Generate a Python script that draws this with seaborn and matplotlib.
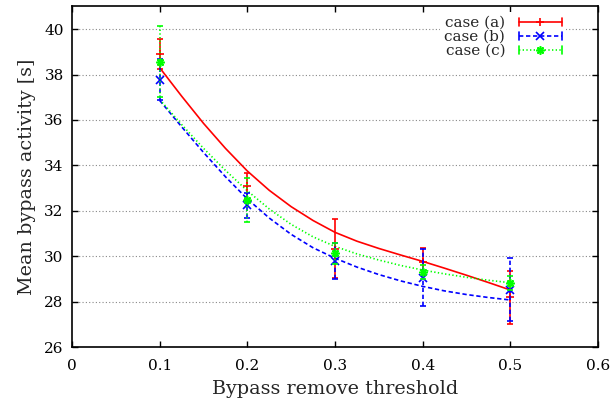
import numpy as np
import pandas as pd
import matplotlib
matplotlib.use("Agg")
import matplotlib.pyplot as plt
import seaborn as sns
from matplotlib.legend_handler import HandlerBase
from matplotlib.lines import Line2D

# ---- data ----
thresholds = [0.1, 0.2, 0.3, 0.4, 0.5]
case_a_mean = [38.90, 33.09, 30.33, 29.76, 28.19]
case_a_err = [0.65, 0.58, 1.29, 0.60, 1.17]
case_b_mean = [37.78, 32.25, 29.78, 29.05, 28.53]
case_b_err = [0.91, 0.55, 0.78, 1.25, 1.37]
case_c_mean = [38.56, 32.47, 30.12, 29.31, 28.83]
case_c_err = [1.57, 0.98, 0.45, 0.30, 0.30]

# smooth trend curves as drawn in the reference
curve_x = [0.100, 0.125, 0.150, 0.175, 0.200, 0.225, 0.250, 0.275, 0.300,
           0.325, 0.350, 0.375, 0.400, 0.425, 0.450, 0.475, 0.500]
case_a_curve = [38.30, 37.05, 35.85, 34.75, 33.75, 32.90, 32.18, 31.57, 31.05,
                30.66, 30.34, 30.05, 29.77, 29.47, 29.16, 28.84, 28.51]
case_b_curve = [36.86, 35.70, 34.57, 33.50, 32.52, 31.68, 30.96, 30.37, 29.91,
                29.52, 29.19, 28.91, 28.67, 28.47, 28.31, 28.18, 28.07]
case_c_curve = [36.90, 35.80, 34.75, 33.78, 32.88, 32.08, 31.40, 30.85, 30.43,
                30.10, 29.83, 29.59, 29.39, 29.22, 29.07, 28.94, 28.83]

case_labels = ["case (a)", "case (b)", "case (c)"]
x_ticks = [0, 0.1, 0.2, 0.3, 0.4, 0.5, 0.6]
x_tick_labels = ["0", "0.1", "0.2", "0.3", "0.4", "0.5", "0.6"]
y_ticks = [26, 28, 30, 32, 34, 36, 38, 40]

# ---- styles ----
colors = {"case (a)": "#ff0000", "case (b)": "#0000ff", "case (c)": "#00ff00"}
dash_map = {"case (a)": "", "case (b)": (2.6, 1.6), "case (c)": (0.8, 1.4)}
marker_map = {"case (a)": "+", "case (b)": "x", "case (c)": (8, 2, 0)}
LW = 1.2

sns.set_theme(style="ticks")
plt.rcParams["font.family"] = ["DejaVu Serif"]
plt.rcParams["mathtext.fontset"] = "dejavuserif"

fig = plt.figure(figsize=(6.11, 4.07), dpi=100)
ax = fig.add_axes([72 / 611, 60 / 407, 526 / 611, (347 - 6.4) / 407])

n = len(curve_x)
curves = pd.DataFrame({
    "threshold": curve_x * 3,
    "activity": case_a_curve + case_b_curve + case_c_curve,
    "case": [case_labels[0]] * n + [case_labels[1]] * n + [case_labels[2]] * n,
})
sns.lineplot(data=curves, x="threshold", y="activity", hue="case", style="case",
             palette=colors, dashes=dash_map, lw=LW, legend=False, ax=ax,
             sort=True, estimator=None)

means = {"case (a)": case_a_mean, "case (b)": case_b_mean, "case (c)": case_c_mean}
errs = {"case (a)": case_a_err, "case (b)": case_b_err, "case (c)": case_c_err}

for i, lab in enumerate(case_labels):
    eb = ax.errorbar(thresholds, means[lab], yerr=errs[lab], fmt="none",
                     ecolor=colors[lab], elinewidth=LW, capsize=2.3, capthick=LW,
                     zorder=3 + i)
    if dash_map[lab] != "":
        eb[2][0].set_linestyle((0, dash_map[lab]))
    ax.plot(thresholds, means[lab], ls="none", marker=marker_map[lab], ms=6,
            mew=1.2, color=colors[lab], zorder=3 + i)

ax.set_xlim(0, 0.6)
ax.set_ylim(26, 41)
ax.set_xticks(x_ticks)
ax.set_xticklabels(x_tick_labels)
ax.set_yticks(y_ticks)
ax.tick_params(direction="in", top=True, right=True, length=4, width=1,
               labelsize=11, colors="black")
ax.tick_params(axis="x", pad=9)
ax.tick_params(axis="y", pad=6)
ax.yaxis.grid(True, linestyle=(0, (1, 2)), color="#888888", lw=0.8)
ax.xaxis.grid(False)
for s in ax.spines.values():
    s.set_linewidth(1.2)
    s.set_color("black")

ax.set_xlabel("Bypass remove threshold", fontsize=13.8, labelpad=5)
ax.set_ylabel("Mean bypass activity [s]", fontsize=13.8, labelpad=6)


class ErrbarHandler(HandlerBase):
    def create_artists(self, legend, orig_handle, xdescent, ydescent, width,
                       height, fontsize, trans):
        y = height / 2 - ydescent
        x0 = -xdescent
        x1 = -xdescent + width
        line = Line2D([x0, x1], [y, y])
        line.update_from(orig_handle)
        line.set_marker("None")
        h = 3.0
        cap0 = Line2D([x0, x0], [y - h, y + h], color=orig_handle.get_color(), lw=LW)
        cap1 = Line2D([x1, x1], [y - h, y + h], color=orig_handle.get_color(), lw=LW)
        mk = Line2D([(x0 + x1) / 2], [y], ls="none", marker=orig_handle.get_marker(),
                    ms=orig_handle.get_markersize(), mew=1.2,
                    color=orig_handle.get_color())
        arts = [line, cap0, cap1, mk]
        for a in arts:
            a.set_transform(trans)
        return arts


proxies = []
for lab in case_labels:
    ls = "-" if dash_map[lab] == "" else (0, dash_map[lab])
    proxies.append(Line2D([], [], color=colors[lab], lw=LW, linestyle=ls,
                          marker=marker_map[lab], ms=6))

leg = ax.legend(proxies, case_labels, handler_map={Line2D: ErrbarHandler()},
                loc="upper right", bbox_to_anchor=(0.94, 0.985), markerfirst=False,
                fontsize=11, handlelength=2.8, handletextpad=0.9,
                labelspacing=0.0, borderpad=0.3, borderaxespad=0,
                frameon=True, fancybox=False, framealpha=1)
leg.get_frame().set_edgecolor("none")
leg.get_frame().set_facecolor("white")

fig.savefig("out.png", dpi=100)
